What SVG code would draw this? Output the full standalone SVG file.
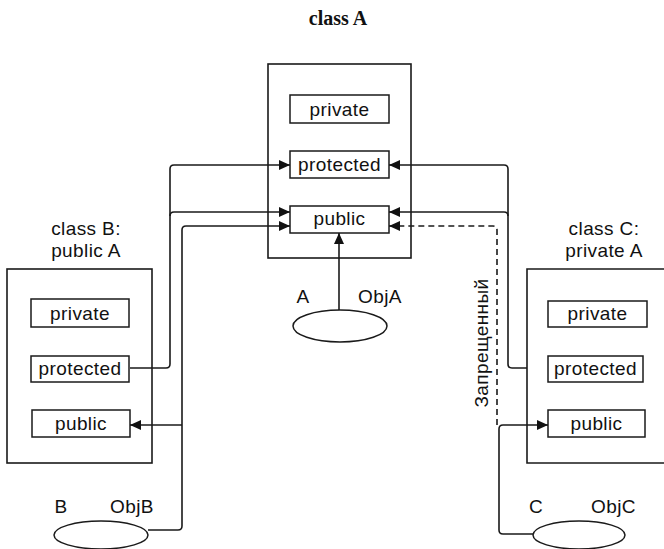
<svg xmlns="http://www.w3.org/2000/svg" width="664" height="549" viewBox="0 0 664 549">
<style>
.box{fill:#fff;stroke:#1a1a1a;stroke-width:1.6}
.sec{fill:#fff;stroke:#1a1a1a;stroke-width:1.5}
.t{font-family:"Liberation Sans",Arial,sans-serif;font-size:19px;letter-spacing:0.4px;fill:#111}
.m{text-anchor:middle}
.title{font-family:"Liberation Serif","Times New Roman",serif;font-weight:bold;font-size:20px;fill:#111;text-anchor:middle}
.ln{fill:none;stroke:#1a1a1a;stroke-width:1.6}
.ar{marker-end:url(#ah)}
.dash{stroke-dasharray:6,4}
</style>
<defs>
<marker id="ah" markerUnits="userSpaceOnUse" markerWidth="12" markerHeight="10" refX="11" refY="5" orient="auto">
<path d="M0,0 L11,5 L0,10 z" fill="#111"/>
</marker>
</defs>
<text class="title" x="338" y="25">class A</text>

<g id="classA">
<rect class="box" x="268" y="64" width="143" height="194"/>
<g id="A-private"><rect class="sec" x="290" y="95" width="99" height="28"/><text class="t m" x="339.5" y="116">private</text></g>
<g id="A-protected"><rect class="sec" x="290" y="151" width="99" height="27"/><text class="t m" x="339.5" y="171">protected</text></g>
<g id="A-public"><rect class="sec" x="290" y="206" width="99" height="27"/><text class="t m" x="339.5" y="225">public</text></g>
</g>

<g id="classB">
<text class="t m" x="86" y="235">class B:</text>
<text class="t m" x="86" y="257">public A</text>
<rect class="box" x="7" y="269" width="145" height="194"/>
<g id="B-private"><rect class="sec" x="31" y="299" width="98" height="28"/><text class="t m" x="80" y="320">private</text></g>
<g id="B-protected"><rect class="sec" x="31" y="356" width="98" height="26"/><text class="t m" x="80" y="375">protected</text></g>
<g id="B-public"><rect class="sec" x="32" y="410" width="98" height="27"/><text class="t m" x="81" y="430">public</text></g>
</g>

<g id="classC">
<text class="t m" x="604" y="235">class C:</text>
<text class="t m" x="604" y="257">private A</text>
<path class="box" d="M670,269 H527 V463 H670"/>
<g id="C-private"><rect class="sec" x="548" y="301" width="99" height="26"/><text class="t m" x="597.5" y="320">private</text></g>
<g id="C-protected"><rect class="sec" x="548" y="356" width="95" height="26"/><text class="t m" x="595.5" y="375">protected</text></g>
<g id="C-public"><rect class="sec" x="548" y="410" width="97" height="27"/><text class="t m" x="596.5" y="430">public</text></g>
</g>

<g id="objA">
<ellipse class="sec" cx="340" cy="326" rx="47" ry="16"/>
<text class="t m" x="303" y="303">A</text>
<text class="t" x="358" y="303">ObjA</text>
</g>
<g id="objB">
<ellipse class="sec" cx="101" cy="535" rx="47" ry="14"/>
<text class="t m" x="61" y="513">B</text>
<text class="t" x="110" y="513">ObjB</text>
</g>
<g id="objC">
<ellipse class="sec" cx="579" cy="535" rx="46" ry="14"/>
<text class="t m" x="536" y="513">C</text>
<text class="t" x="591" y="513">ObjC</text>
</g>

<g id="connectors">
<path class="ln ar" d="M130,368 H166 Q170,368 170,364 V169 Q170,165 174,165 H290"/>
<path class="ln ar" d="M170,216 Q170,212 174,212 H290"/>
<path class="ln ar" d="M148,530 H178 Q182,530 182,526 V230 Q182,226 186,226 H290"/>
<path class="ln ar" d="M182,425 H130"/>
<path class="ln ar" d="M527,368 H512 Q508,368 508,364 V169 Q508,165 504,165 H389"/>
<path class="ln ar" d="M508,216 Q508,212 504,212 H389"/>
<path class="ln ar dash" d="M497,425 V230 Q497,226 493,226 H389"/>
<path class="ln ar" d="M533,534 H503 Q499,534 499,530 V429 Q499,425 503,425 H548"/>
<path class="ln ar" d="M339,310 V233"/>
<text class="t m" transform="translate(488,343) rotate(-90)" x="0" y="0">Запрещенный</text>
</g>
</svg>
